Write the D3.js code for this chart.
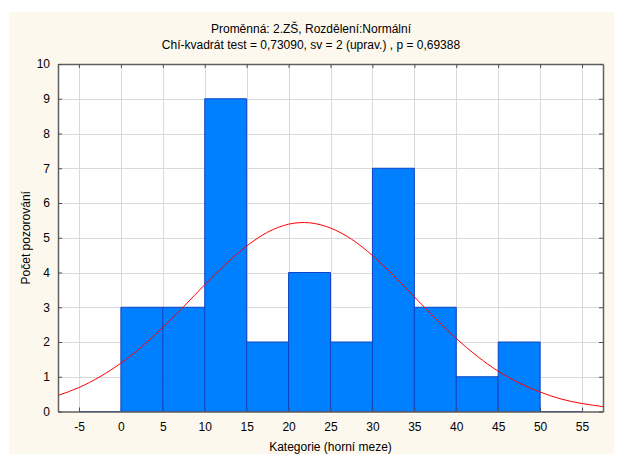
<!DOCTYPE html>
<html>
<head>
<meta charset="utf-8">
<script src="https://cdn.jsdelivr.net/npm/d3@7"></script>
<style>
  body { margin: 0; background: #ffffff; }
  svg { display: block; font-family: "Liberation Sans", Arial, sans-serif; }
</style>
</head>
<body>
<svg width="617" height="459"></svg>
<script>
// histogram: upper bin limits and counts
const binUpper = [0, 5, 10, 15, 20, 25, 30, 35, 40, 45, 50, 55];
const counts   = [0, 3, 3, 9, 2, 4, 2, 7, 3, 1, 2, 0];
const binWidth = 5;

// fitted normal curve
const curveX = [-7.5, -5, -2.5, 0, 2.5, 5, 7.5, 10, 12.5, 15, 17.5, 20, 22.5, 25, 27.5,
                30, 32.5, 35, 37.5, 40, 42.5, 45, 47.5, 50, 52.5, 55, 57.5];
const curveY = [0.46, 0.69, 1.00, 1.39, 1.87, 2.42, 3.02, 3.65, 4.24, 4.76, 5.16, 5.39, 5.43, 5.28, 4.96,
                4.49, 3.92, 3.30, 2.68, 2.10, 1.59, 1.16, 0.82, 0.56, 0.36, 0.23, 0.14];

const xTicks = [-5, 0, 5, 10, 15, 20, 25, 30, 35, 40, 45, 50, 55];
const yTicks = [0, 1, 2, 3, 4, 5, 6, 7, 8, 9, 10];

const title1 = "Proměnná: 2.ZŠ, Rozdělení:Normální";
const title2 = "Chí-kvadrát test = 0,73090, sv = 2 (uprav.) , p = 0,69388";
const xLabel = "Kategorie (horní meze)";
const yLabel = "Počet pozorování";

const svg = d3.select("svg");
const margin = {left: 58, right: 14, top: 64, bottom: 47.5};
const width = 617, height = 459;

svg.append("rect")
    .attr("x", 9).attr("y", 12)
    .attr("width", 605).attr("height", 442)
    .attr("fill", "#fcf8ee");

const x = d3.scaleLinear().domain([-7.5, 57.5]).range([margin.left, width - margin.right]);
const y = d3.scaleLinear().domain([0, 10]).range([height - margin.bottom, margin.top]);

svg.append("rect")
    .attr("x", x(-7.5)).attr("y", y(10))
    .attr("width", x(57.5) - x(-7.5)).attr("height", y(0) - y(10))
    .attr("fill", "#ffffff");

// grid
const grid = svg.append("g").attr("stroke", "#d9d9d9").attr("stroke-width", 1);
grid.selectAll(".gx").data(xTicks).join("line")
    .attr("x1", d => Math.round(x(d)) + 0.5).attr("x2", d => Math.round(x(d)) + 0.5)
    .attr("y1", y(10)).attr("y2", y(0));
grid.selectAll(".gy").data(yTicks.slice(1, -1)).join("line")
    .attr("y1", d => Math.round(y(d)) + 0.5).attr("y2", d => Math.round(y(d)) + 0.5)
    .attr("x1", x(-7.5)).attr("x2", x(57.5));

// bars
svg.append("g").selectAll("path").data(counts).join("path")
    .attr("d", (d, i) => {
        const x0 = x(binUpper[i] - binWidth), x1 = x(binUpper[i]);
        const y0 = y(0), y1 = y(d);
        return `M${x0},${y0}L${x0},${y1}L${x1},${y1}L${x1},${y0}Z`;
    })
    .attr("fill", "#0080ff")
    .attr("stroke", "#1044c4")
    .attr("stroke-width", 1);

// normal curve
const line = d3.line()
    .x(d => x(d[0]))
    .y(d => y(d[1]))
    .curve(d3.curveNatural);
svg.append("path")
    .datum(curveX.map((v, i) => [v, curveY[i]]))
    .attr("d", line)
    .attr("fill", "none")
    .attr("stroke", "#ff0000")
    .attr("stroke-width", 1);

// axes
function styleAxis(g) {
    g.select(".domain").attr("stroke", "#606060").attr("stroke-width", 1.5);
    g.selectAll(".tick line").attr("stroke", "#505050");
    g.selectAll(".tick text").attr("fill", "#000").style("font-size", "12px")
        .style("font-family", "'Liberation Sans', Arial, sans-serif");
}
const plain = d => String(d);

svg.append("g")
    .attr("transform", `translate(0,${y(0)})`)
    .call(d3.axisBottom(x).tickValues(xTicks).tickFormat(plain).tickSize(-4).tickSizeOuter(0).tickPadding(11))
    .call(styleAxis);
svg.append("g")
    .attr("transform", `translate(0,${y(10)})`)
    .call(d3.axisTop(x).tickValues(xTicks).tickSize(-4).tickSizeOuter(0).tickFormat(""))
    .call(styleAxis);
svg.append("g")
    .attr("transform", `translate(${x(-7.5)},0)`)
    .call(d3.axisLeft(y).tickValues(yTicks).tickFormat(plain).tickSize(-4).tickSizeOuter(0).tickPadding(8))
    .call(styleAxis);
svg.append("g")
    .attr("transform", `translate(${x(57.5)},0)`)
    .call(d3.axisRight(y).tickValues(yTicks).tickSize(-4).tickSizeOuter(0).tickFormat(""))
    .call(styleAxis);

// titles
svg.append("text").attr("x", 311).attr("y", 33)
    .attr("text-anchor", "middle").style("font-size", "12px").text(title1);
svg.append("text").attr("x", 311).attr("y", 49)
    .attr("text-anchor", "middle").style("font-size", "12px").text(title2);
svg.append("text").attr("x", (x(-7.5) + x(57.5)) / 2).attr("y", 451)
    .attr("text-anchor", "middle").style("font-size", "12px").text(xLabel);
svg.append("text")
    .attr("transform", `translate(30,${(y(0) + y(10)) / 2}) rotate(-90)`)
    .attr("text-anchor", "middle").style("font-size", "12px").text(yLabel);
</script>
</body>
</html>
